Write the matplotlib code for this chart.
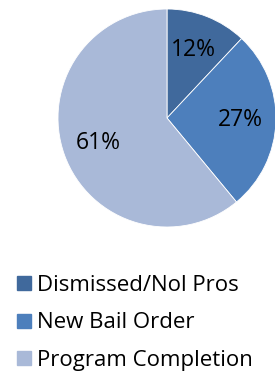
import matplotlib.pyplot as plt
from matplotlib.lines import Line2D

categories = ['Dismissed/Nol Pros', 'New Bail Order', 'Program Completion']
shares = [12, 27, 61]
colors = ['#40699C', '#4D7FBC', '#A9B9D8']

plt.rcParams['font.family'] = ['Open Sans', 'DejaVu Sans']

fig = plt.figure(figsize=(2.75, 3.75), dpi=100)
# pie centre ~ (167, 118) px, radius ~109 px
ax = fig.add_axes([(167 - 109) / 275, 1 - (118 + 109) / 375, 218 / 275, 218 / 375])

wedges, texts, autotexts = ax.pie(shares, colors=colors, startangle=90, counterclock=False,
                                  autopct='%d%%', pctdistance=0.67,
                                  wedgeprops=dict(linewidth=0.6, edgecolor='white'),
                                  textprops=dict(fontsize=16.5, color='black'))
ax.set_xlim(-1, 1)
ax.set_ylim(-1, 1)
ax.set_aspect('equal')
ax.axis('off')

handles = [Line2D([], [], marker='s', linestyle='', markersize=9.5, color=c) for c in colors]
fig.legend(handles, categories, loc='upper left', bbox_to_anchor=(0.01, 1 - 266 / 375),
           frameon=False, fontsize=16, handletextpad=0.05, labelspacing=0.74,
           handlelength=1.1, borderaxespad=0)

fig.savefig('out.png', dpi=100)
